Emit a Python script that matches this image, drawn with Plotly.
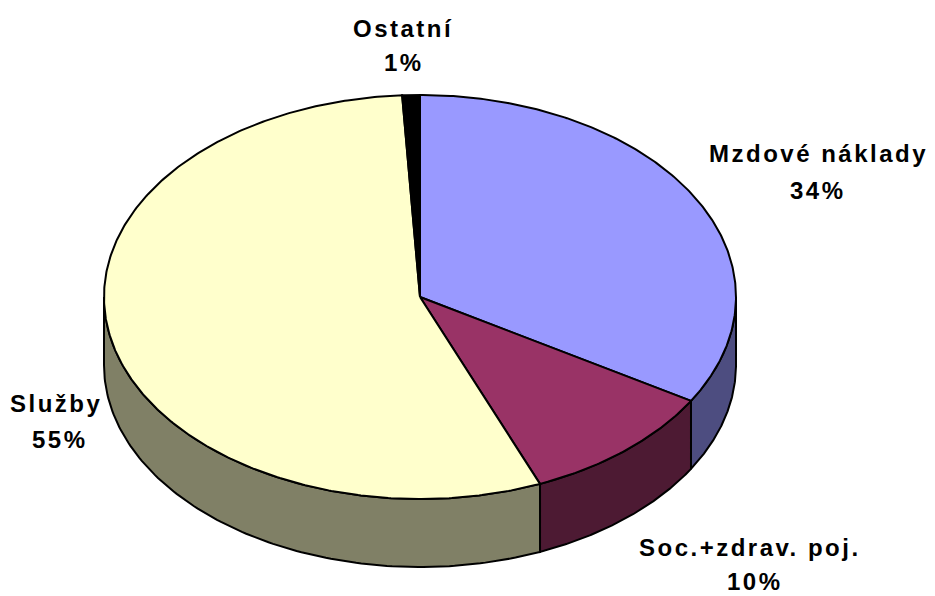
import numpy as np
import plotly.graph_objects as go

# ---- data (shares; labels show rounded %) ----
categories = ["Mzdové náklady", "Soc.+zdrav. poj.", "Služby", "Ostatní"]
values = [33.6, 10.2, 55.3, 0.9]
top_colors = ["#9999FF", "#993366", "#FFFFCC", "#000000"]
side_colors = ["#4D4D80", "#4D1A33", "#808066", "#000000"]

# ---- geometry (layout parameters, pixel space) ----
W, H = 935, 596
cx, cy, rx, ry, depth = 420, 297, 316, 202, 68

def pt(theta_deg, dy=0.0):
    t = np.radians(theta_deg)
    return cx + rx * np.sin(t), cy - ry * np.cos(t) + dy

total = float(sum(values))
fracs = [v / total for v in values]
starts = np.cumsum([0] + fracs[:-1]) * 360
ends = np.cumsum(fracs) * 360

fig = go.Figure()

# side walls (visible front half: 90..270 deg)
for a, b, c in zip(starts, ends, side_colors):
    lo, hi = max(a, 90), min(b, 270)
    if hi <= lo:
        continue
    th = np.linspace(lo, hi, 120)
    xs_t, ys_t = pt(th)
    xs_b, ys_b = pt(th[::-1], depth)
    xs = np.concatenate([xs_t, xs_b, xs_t[:1]])
    ys = np.concatenate([ys_t, ys_b, ys_t[:1]])
    fig.add_trace(go.Scatter(x=xs, y=ys, mode="lines", fill="toself",
                             fillcolor=c, line=dict(color="black", width=2),
                             hoverinfo="skip", showlegend=False))

# top faces
for a, b, c, name in zip(starts, ends, top_colors, categories):
    th = np.linspace(a, b, max(4, int((b - a) * 2)))
    xs_a, ys_a = pt(th)
    xs = np.concatenate([[cx], xs_a, [cx]])
    ys = np.concatenate([[cy], ys_a, [cy]])
    fig.add_trace(go.Scatter(x=xs, y=ys, mode="lines", fill="toself",
                             fillcolor=c, line=dict(color="black", width=2),
                             name=name, hoverinfo="name", showlegend=False))

# labels
label_pos = {  # name line centre, percent line centre
    "Mzdové náklady": (818, 153, 818, 190),
    "Soc.+zdrav. poj.": (750, 547, 755, 581),
    "Služby": (56, 403, 60, 439),
    "Ostatní": (403, 28, 404, 62),
}
font = dict(family="Liberation Sans, Arial, sans-serif", size=24, color="black")
for name, v in zip(categories, values):
    x1, y1, x2, y2 = label_pos[name]
    pct = f"{round(v / total * 100)}%"
    for txt, xx, yy in ((name, x1, y1), (pct, x2, y2)):
        fig.add_annotation(x=xx, y=yy, xref="x", yref="y", showarrow=False,
                           text=f"<b><span style='letter-spacing:2.5px'>{txt}</span></b>",
                           font=font, xanchor="center", yanchor="middle")

fig.update_layout(width=W, height=H, margin=dict(l=0, r=0, t=0, b=0),
                  paper_bgcolor="white", plot_bgcolor="white",
                  xaxis=dict(range=[0, W], visible=False, fixedrange=True),
                  yaxis=dict(range=[H, 0], visible=False, fixedrange=True))

fig.write_html("out.html", config={"displayModeBar": False},
               post_script="document.body.style.margin='0';document.body.style.overflow='hidden';")
